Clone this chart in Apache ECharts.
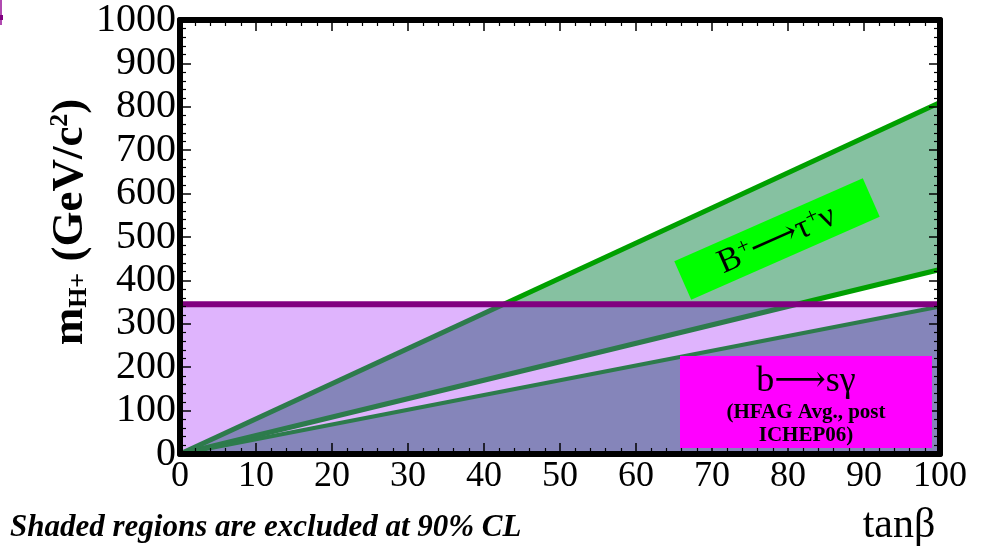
<!DOCTYPE html>
<html>
<head>
<meta charset="utf-8">
<script src="https://cdn.jsdelivr.net/npm/echarts@6/dist/echarts.min.js"></script>
<style>
html,body{margin:0;padding:0;background:#fff;}
#c{width:983px;height:549px;}
</style>
</head>
<body>
<div id="c"></div>
<script>
// ---- data ----
const tanBeta = [0, 100];            // x extent of the curves
const tauNuUpper = [0, 810];         // upper edge of B->tau nu excluded band
const tauNuMiddle = [0, 425];        // lower edge of B->tau nu excluded band
const tauNuLower = [0, 340];         // upper edge of lower B->tau nu excluded region
const bsgLimit = 345;                // b->s gamma lower limit on m_H+
const xTicks = [0, 10, 20, 30, 40, 50, 60, 70, 80, 90, 100];
const yTicks = [0, 100, 200, 300, 400, 500, 600, 700, 800, 900, 1000];

// colours
const C = {
  lav: '#dfb4fd', green: '#86c1a1', overlap: '#8585ba',
  lineBright: '#00a000', lineDark: '#2d7b4c', purple: '#800080'
};

function crossX(ys) { // x where straight line through (tanBeta, ys) reaches bsgLimit
  return tanBeta[0] + (bsgLimit - ys[0]) / (ys[1] - ys[0]) * (tanBeta[1] - tanBeta[0]);
}
const xu = crossX(tauNuUpper), xm = crossX(tauNuMiddle);

const polygons = [
  { pts: [[tanBeta[0], 0], [tanBeta[1], 0], [tanBeta[1], bsgLimit], [tanBeta[0], bsgLimit]], color: C.lav },
  { pts: [[tanBeta[0], tauNuUpper[0]], [tanBeta[1], tauNuUpper[1]], [tanBeta[1], tauNuMiddle[1]], [tanBeta[0], tauNuMiddle[0]]], color: C.green },
  { pts: [[tanBeta[0], tauNuUpper[0]], [xu, bsgLimit], [xm, bsgLimit], [tanBeta[0], tauNuMiddle[0]]], color: C.overlap },
  { pts: [[tanBeta[0], 0], [tanBeta[1], 0], [tanBeta[1], tauNuLower[1]], [tanBeta[0], tauNuLower[0]]], color: C.overlap }
];

function seg(data, color, w) {
  return { type: 'line', data: data, showSymbol: false, symbol: 'none', silent: true,
    lineStyle: { color: color, width: w }, z: 3, animation: false };
}

const series = [
  {
    type: 'custom', z: 1, silent: true, animation: false,
    data: polygons.map((p, i) => i),
    renderItem: function (params, api) {
      const p = polygons[params.dataIndex];
      return { type: 'polygon', shape: { points: p.pts.map(q => api.coord(q)) },
        style: { fill: p.color } };
    }
  },
  seg([[tanBeta[0], tauNuUpper[0]], [xu, bsgLimit]], C.lineDark, 5),
  seg([[xu, bsgLimit], [tanBeta[1], tauNuUpper[1]]], C.lineBright, 5),
  seg([[tanBeta[0], tauNuMiddle[0]], [xm, bsgLimit]], C.lineDark, 5),
  seg([[xm, bsgLimit], [tanBeta[1], tauNuMiddle[1]]], C.lineBright, 5),
  seg([[tanBeta[0], tauNuLower[0]], [tanBeta[1], tauNuLower[1]]], C.lineDark, 4),
  Object.assign(seg([[tanBeta[0], bsgLimit], [tanBeta[1], bsgLimit]], C.purple, 6), { z: 4 })
];

const serif = '"Liberation Serif", "DejaVu Serif", serif';

function xAx(pos, labels) {
  return {
    type: 'value', position: pos, min: xTicks[0], max: xTicks[xTicks.length - 1], interval: 10, z: 10,
    axisLine: { show: true, onZero: false, lineStyle: { color: '#000', width: 6 } },
    axisTick: { show: true, inside: true, length: 11, lineStyle: { color: '#000', width: 1.5 } },
    minorTick: { show: true, splitNumber: 5, length: 6, lineStyle: { color: '#000', width: 1.2 } },
    splitLine: { show: false },
    axisLabel: { show: labels, fontFamily: serif, fontSize: 36, color: '#000', margin: 5,
      formatter: v => String(v) }
  };
}
function yAx(pos, labels) {
  return {
    type: 'value', position: pos, min: yTicks[0], max: yTicks[yTicks.length - 1], interval: 100, z: 10,
    axisLine: { show: true, onZero: false, lineStyle: { color: '#000', width: 6 } },
    axisTick: { show: true, inside: true, length: 11, lineStyle: { color: '#000', width: 1.5 } },
    minorTick: { show: true, splitNumber: 5, length: 6, lineStyle: { color: '#000', width: 1.2 } },
    splitLine: { show: false },
    axisLabel: { show: labels, fontFamily: serif, fontSize: 40, color: '#000', margin: 4,
      formatter: v => String(v) }
  };
}

const xAxes = [xAx('bottom', true), xAx('top', false)];
const yAxes = [yAx('left', true), yAx('right', false)];

const chart = echarts.init(document.getElementById('c'), null, { renderer: 'canvas' });
chart.setOption({
  animation: false,
  backgroundColor: '#fff',
  grid: { left: 180, right: 43, top: 19, bottom: 95 },
  xAxis: xAxes,
  yAxis: yAxes,
  series: series,
  graphic: [
    // y-axis title
    { type: 'text', x: 70, y: 222, rotation: Math.PI / 2, z: 20,
      style: { text: 'm{sub|H+} (GeV/c{sup|2})', fontFamily: serif, fontSize: 45, fontWeight: 'bold',
        fill: '#000', align: 'center', verticalAlign: 'middle',
        rich: { sub: { fontSize: 26, fontWeight: 'bold', fontFamily: serif, verticalAlign: 'bottom', padding: [16, 0, 0, 0] },
                sup: { fontSize: 26, fontWeight: 'bold', fontFamily: serif, verticalAlign: 'top', padding: [0, 0, 16, 0] } } } },
    // x-axis title
    { type: 'text', x: 899, y: 526, z: 20,
      style: { text: 'tanβ', fontFamily: serif, fontSize: 42, fill: '#000', align: 'center', verticalAlign: 'middle' } },
    // footnote
    { type: 'text', x: 10, y: 528, z: 20,
      style: { text: 'Shaded regions are excluded at 90% CL', fontFamily: serif, fontSize: 31,
        fontStyle: 'italic', fontWeight: 'bold', fill: '#000', align: 'left', verticalAlign: 'middle' } },
    // B -> tau nu label
    { type: 'rect', x: 777, y: 239, rotation: 0.415, z: 20,
      shape: { x: -103, y: -21, width: 206, height: 42 }, style: { fill: '#00ff00' } },
    { type: 'text', x: 777, y: 240, rotation: 0.415, z: 21,
      style: { text: 'B{sup|+}⟶τ{sup|+}ν', fontFamily: serif, fontSize: 34, fill: '#000',
        align: 'center', verticalAlign: 'middle',
        rich: { sup: { fontSize: 22, fontFamily: serif, verticalAlign: 'top', padding: [0, 0, 14, 0] } } } },
    // b -> s gamma label
    { type: 'rect', shape: { x: 680, y: 356, width: 252, height: 92 }, style: { fill: '#ff00ff' }, z: 20 },
    { type: 'text', x: 806, y: 382, z: 21,
      style: { text: 'b⟶sγ', fontFamily: serif, fontSize: 36, fill: '#000', align: 'center', verticalAlign: 'middle' } },
    { type: 'text', x: 806, y: 413, z: 21,
      style: { text: '(HFAG Avg., post', fontFamily: serif, fontSize: 21, fontWeight: 'bold', fill: '#000', align: 'center', verticalAlign: 'middle' } },
    { type: 'text', x: 806, y: 436, z: 21,
      style: { text: 'ICHEP06)', fontFamily: serif, fontSize: 21, fontWeight: 'bold', fill: '#000', align: 'center', verticalAlign: 'middle' } },
    // small purple mark top-left
    { type: 'rect', shape: { x: 0, y: 0, width: 2, height: 25 }, style: { fill: '#b04ab0' }, z: 20 },
    { type: 'rect', shape: { x: 0, y: 15, width: 3, height: 5 }, style: { fill: '#800080' }, z: 20 }
  ]
});
</script>
</body>
</html>
